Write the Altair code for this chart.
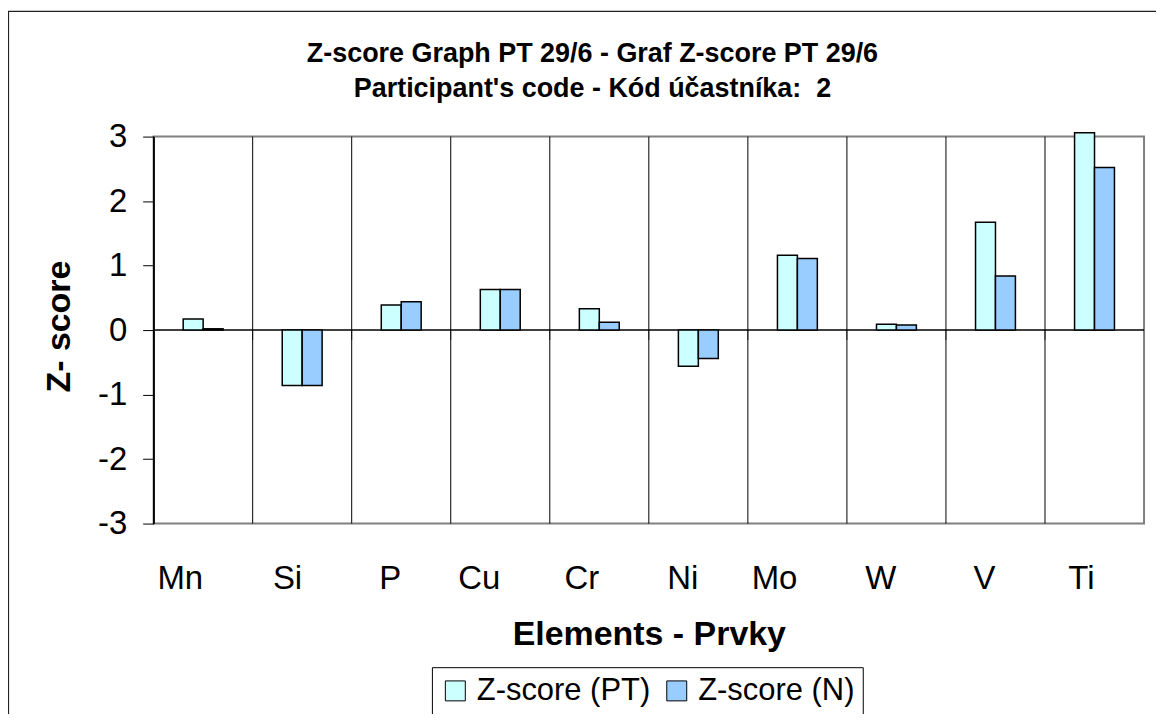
import altair as alt
import pandas as pd

elements = ["Mn", "Si", "P", "Cu", "Cr", "Ni", "Mo", "W", "V", "Ti"]
z_pt = [0.17, -0.86, 0.39, 0.63, 0.33, -0.56, 1.16, 0.09, 1.67, 3.06]
z_n = [0.02, -0.86, 0.44, 0.63, 0.12, -0.44, 1.11, 0.08, 0.84, 2.52]
series_names = ["Z-score (PT)", "Z-score (N)"]
series_colors = ["#CCFFFF", "#99CCFF"]
y_ticks = [-3, -2, -1, 0, 1, 2, 3]
title_lines = ["Z-score Graph PT 29/6 - Graf Z-score PT 29/6",
               "Participant's code - Kód účastníka: \u00a02"]

FONT = "Liberation Sans"
W, H = 993, 388
STEP = W / len(elements)
BAR_W = 20

rows = []
for e, a, b in zip(elements, z_pt, z_n):
    rows.append({"element": e, "series": series_names[0], "z": a})
    rows.append({"element": e, "series": series_names[1], "z": b})
df = pd.DataFrame(rows)
cats = pd.DataFrame({"element": elements})
one = pd.DataFrame({"k": [0]})

x_scale = alt.Scale(domain=elements, paddingInner=0, paddingOuter=0)
y_scale = alt.Scale(domain=[-3, 3], nice=False, zero=False)

bars = alt.Chart(df).mark_bar(stroke="black", strokeWidth=1.5).encode(
    x=alt.X("element:N", scale=x_scale, sort=elements,
            axis=alt.Axis(title="Elements - Prvky", labelAngle=0, labelFontSize=33,
                          labelColor="black", labelPadding=55, ticks=False, domain=False,
                          grid=False, titleFontSize=34, titleFontWeight="bold",
                          titleColor="black", titleBaseline="alphabetic", titleY=121)),
    xOffset=alt.XOffset("series:N", sort=series_names,
                        scale=alt.Scale(domain=series_names,
                                        range=[STEP / 2 - BAR_W, STEP / 2 + BAR_W],
                                        paddingInner=0, paddingOuter=0)),
    y=alt.Y("z:Q", scale=y_scale,
            axis=alt.Axis(title="Z- score", values=y_ticks, labelExpr="'' + datum.value",
                          labelFontSize=33,
                          labelColor="black", labelPadding=16, tickSize=11, tickColor="black",
                          domainColor="black", domainWidth=1.5, gridColor="black",
                          gridWidth=1, titleFontSize=34, titleFontWeight="bold",
                          titleColor="black", titleAngle=-90, titleBaseline="alphabetic",
                          titleX=-84, titleY=190, titleAlign="center")),
    color=alt.Color("series:N", sort=series_names,
                    scale=alt.Scale(domain=series_names, range=series_colors),
                    legend=alt.Legend(title=None, orient="none", legendX=279, legendY=532,
                                      direction="horizontal", strokeColor="black",
                                      padding=8, symbolType="square", symbolSize=400,
                                      symbolStrokeColor="black", symbolStrokeWidth=1,
                                      labelFontSize=31, labelColor="black", labelOffset=6,
                                      labelLimit=400, columnPadding=11)),
)

vgrid = alt.Chart(cats).mark_rule(color="black", strokeWidth=1).encode(
    x=alt.X("element:N", scale=x_scale, sort=elements, bandPosition=0),
)

zero = alt.Chart(one).mark_rule(color="black", strokeWidth=1.5).encode(
    y=alt.datum(0, scale=y_scale),
)

cat_ticks = alt.Chart(cats).mark_tick(color="black", thickness=1, size=10, yOffset=5,
                                     orient="vertical").encode(
    x=alt.X("element:N", scale=x_scale, sort=elements, bandPosition=0),
    y=alt.datum(0, scale=y_scale),
)

frame = alt.Chart(one).mark_rect(
    fill=None, stroke="#222222", strokeWidth=1.2
).encode(
    x=alt.value(-145.5), y=alt.value(-125.5), x2=alt.value(1300), y2=alt.value(900)
)

title1 = alt.Chart(one).mark_text(
    font=FONT, fontSize=27, fontWeight="bold", color="black",
    align="center", baseline="alphabetic"
).encode(text=alt.value(title_lines[0]), x=alt.value(440), y=alt.value(-75))

title2 = alt.Chart(one).mark_text(
    font=FONT, fontSize=27, fontWeight="bold", color="black",
    align="center", baseline="alphabetic"
).encode(text=alt.value(title_lines[1]), x=alt.value(440), y=alt.value(-40))

chart = alt.layer(vgrid, zero, bars, cat_ticks, frame, title1, title2).properties(
    width=W, height=H,
    autosize=alt.AutoSizeParams(type="none"),
    padding={"left": 146, "top": 128, "right": 12, "bottom": 190},
).configure(font=FONT, background="white").configure_view(
    stroke="#808080", strokeWidth=2
).configure_axis(labelFont=FONT, titleFont=FONT).configure_legend(
    labelFont=FONT
)

chart.save("out.html", embed_options={"renderer": "svg", "actions": False})
